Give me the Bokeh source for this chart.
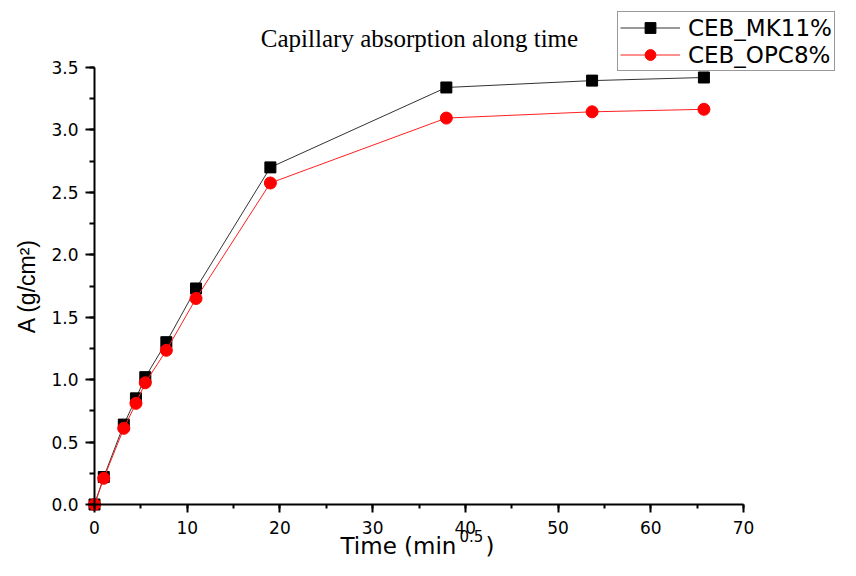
from bokeh.plotting import figure
from bokeh.models import (Range1d, SingleIntervalTicker, NumeralTickFormatter, Label,
                          Legend, LegendItem, ColumnDataSource)
from bokeh.embed import file_html
from bokeh.resources import INLINE

# ---- data ----
time_sqrt = [0, 1.0, 3.16, 4.47, 5.48, 7.75, 10.95, 18.97, 37.95, 53.67, 65.73]
mk11 = [0, 0.22, 0.64, 0.85, 1.02, 1.30, 1.73, 2.70, 3.34, 3.395, 3.42]
opc8 = [0, 0.21, 0.61, 0.81, 0.975, 1.235, 1.65, 2.575, 3.095, 3.145, 3.165]
series_names = ["CEB_MK11%", "CEB_OPC8%"]
title_text = "Capillary absorption along time"
x_label_main = "Time (min"
x_label_sup = "0.5"
y_label = "A (g/cm\u00b2)"
x_axis_bounds = (0, 70)
y_axis_bounds = (0, 3.5)

SANS = "DejaVu Sans"
W, H = 840, 560
# pixel placement of the axes box inside the canvas
X0_PX, X1_PX = 94, 743
Y0_PX, Y1_PX = 504, 67
xs = (X1_PX - X0_PX) / (x_axis_bounds[1] - x_axis_bounds[0])
ys = (Y0_PX - Y1_PX) / (y_axis_bounds[1] - y_axis_bounds[0])
x_range = Range1d(x_axis_bounds[0] - X0_PX / xs, x_axis_bounds[1] + (W - X1_PX) / xs)
y_range = Range1d(y_axis_bounds[0] - (H - Y0_PX) / ys, y_axis_bounds[1] + Y1_PX / ys)

p = figure(width=W, height=H, output_backend="svg", toolbar_location=None,
           x_range=x_range, y_range=y_range,
           min_border_left=0, min_border_right=0, min_border_top=0, min_border_bottom=0)
p.outline_line_color = None
p.xgrid.visible = False
p.ygrid.visible = False
p.background_fill_color = "white"
p.border_fill_color = "white"

for ax in (p.xaxis[0], p.yaxis[0]):
    ax.axis_line_width = 2
    ax.axis_line_color = "black"
    ax.major_tick_line_width = 2
    ax.minor_tick_line_width = 2
    ax.major_tick_line_color = "black"
    ax.minor_tick_line_color = "black"
    ax.major_tick_in = 0
    ax.minor_tick_in = 0
    ax.major_label_text_font = SANS
    ax.major_label_text_font_size = "17px"
    ax.major_label_text_color = "black"

xa = p.xaxis[0]
xa.fixed_location = y_axis_bounds[0]
xa.bounds = x_axis_bounds
xa.ticker = SingleIntervalTicker(interval=10, num_minor_ticks=2)
xa.major_tick_out = 8
xa.minor_tick_out = 4
xa.major_label_standoff = 8
xa.axis_label = None

ya = p.yaxis[0]
ya.fixed_location = x_axis_bounds[0]
ya.bounds = y_axis_bounds
ya.ticker = SingleIntervalTicker(interval=0.5, num_minor_ticks=2)
ya.formatter = NumeralTickFormatter(format="0.0")
ya.major_tick_out = 9
ya.minor_tick_out = 5
ya.major_label_standoff = 7
ya.axis_label = y_label
ya.axis_label_text_font = "Liberation Sans"
ya.axis_label_text_font_style = "normal"
ya.axis_label_text_font_size = "23px"
ya.axis_label_text_color = "black"
ya.axis_label_standoff = 8

src = ColumnDataSource(dict(t=time_sqrt, a=mk11, b=opc8))
l1 = p.line("t", "a", source=src, line_color="#333333", line_width=1)
m1 = p.scatter("t", "a", source=src, marker="square", size=11, fill_color="black", line_color="black")
l2 = p.line("t", "b", source=src, line_color="#ff2020", line_width=1)
m2 = p.scatter("t", "b", source=src, marker="circle", size=12, fill_color="#ff0000", line_color="#ff0000")

legend = Legend(items=[LegendItem(label=series_names[0], renderers=[l1, m1]),
                       LegendItem(label=series_names[1], renderers=[l2, m2])],
                location=(617, H - 71), orientation="vertical",
                label_text_font=SANS, label_text_font_size="23px", label_text_color="black",
                glyph_width=60, glyph_height=27, label_height=27,
                label_standoff=8, padding=2, spacing=0, margin=0,
                border_line_color="#333333", border_line_width=1,
                background_fill_color="white", background_fill_alpha=1)
p.add_layout(legend, "center")

# title (screen coordinates of the frame, which fills the canvas)
p.add_layout(Label(x=419, y=H - 38, x_units="screen", y_units="screen", text=title_text,
                   text_font="Liberation Serif", text_font_size="25px", text_align="center",
                   text_baseline="alphabetic", text_color="black"))

# x-axis label with superscript
base = 15
p.add_layout(Label(x=340, y=base, x_units="screen", y_units="screen", text=x_label_main,
                   text_font=SANS, text_font_size="23px", text_align="left",
                   text_baseline="alphabetic", text_color="black"))
p.add_layout(Label(x=459, y=base + 10, x_units="screen", y_units="screen", text=x_label_sup,
                   text_font=SANS, text_font_size="15px", text_align="left",
                   text_baseline="alphabetic", text_color="black"))
p.add_layout(Label(x=485, y=base, x_units="screen", y_units="screen", text=")",
                   text_font=SANS, text_font_size="23px", text_align="left",
                   text_baseline="alphabetic", text_color="black"))

open("out.html", "w").write(file_html(p, INLINE))
